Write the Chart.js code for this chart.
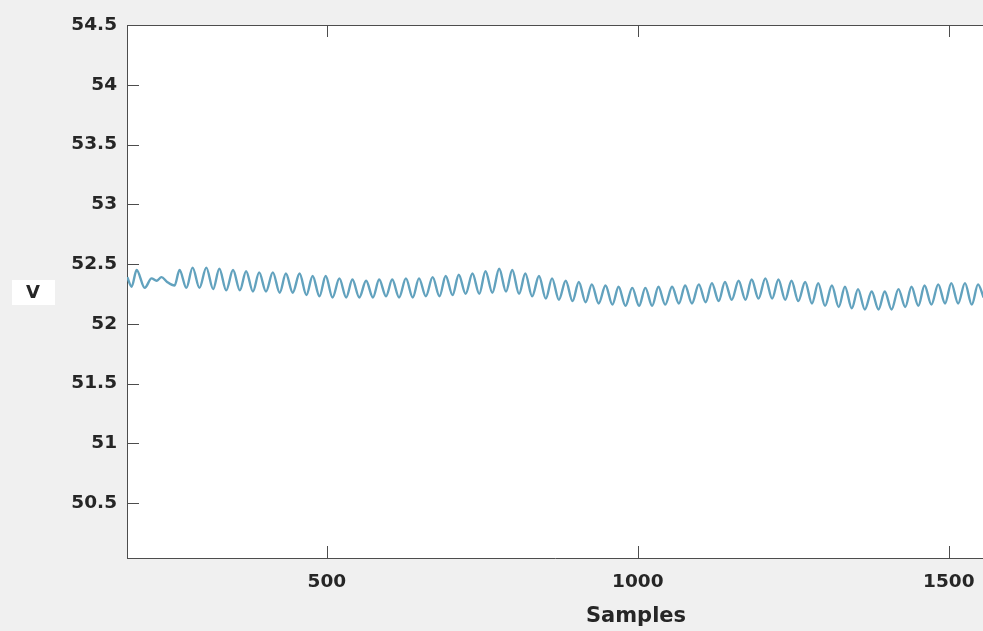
<!DOCTYPE html>
<html>
<head>
<meta charset="utf-8">
<script src="https://cdn.jsdelivr.net/npm/chart.js@4.4.1/dist/chart.umd.min.js"></script>
<style>
  html, body { margin: 0; padding: 0; background: #f0f0f0; }
  #wrap { width: 983px; height: 631px; position: relative; }
</style>
</head>
<body>
<div id="wrap"><canvas id="cv"></canvas></div>
<script>
// peaks and troughs (sample index, volts)
const samples = [
  179, 186, 194, 207, 218, 226, 234, 243, 255,
  263, 274, 284, 295, 306, 317, 327, 338, 349, 360, 370, 381, 391, 402,
  413, 424, 434, 445, 456, 467, 477, 488, 498, 509, 520, 531, 541, 552,
  563, 574, 584, 595, 605, 616, 627, 638, 648, 659, 670, 681, 691, 702,
  712, 723, 734, 745, 755, 766, 777, 788, 798, 809, 819, 830, 841, 852,
  862, 873, 884, 895, 905, 916, 926, 937, 948, 959, 969, 980, 991, 1002,
  1012, 1023, 1033, 1044, 1055, 1066, 1076, 1087, 1098, 1109, 1119, 1130,
  1140, 1151, 1162, 1173, 1183, 1194, 1205, 1216, 1226, 1237, 1247, 1258,
  1269, 1280, 1290, 1301, 1312, 1323, 1333, 1344, 1354, 1365, 1376, 1387,
  1397, 1408, 1419, 1430, 1440, 1451, 1461, 1472, 1483, 1494, 1504, 1515,
  1526, 1537, 1547, 1556
];
const volts = [
  52.39, 52.31, 52.45, 52.30, 52.38, 52.36, 52.39, 52.35, 52.32,
  52.45, 52.30, 52.47, 52.30, 52.47, 52.29, 52.46, 52.28, 52.45, 52.28, 52.44, 52.27, 52.43, 52.27,
  52.43, 52.26, 52.42, 52.26, 52.42, 52.24, 52.40, 52.23, 52.40, 52.22, 52.38, 52.22, 52.37, 52.22,
  52.36, 52.22, 52.37, 52.23, 52.37, 52.22, 52.38, 52.22, 52.38, 52.23, 52.39, 52.23, 52.40, 52.24,
  52.41, 52.25, 52.42, 52.25, 52.44, 52.26, 52.46, 52.27, 52.45, 52.25, 52.42, 52.23, 52.40, 52.21,
  52.38, 52.20, 52.36, 52.19, 52.35, 52.18, 52.33, 52.17, 52.32, 52.16, 52.31, 52.15, 52.30, 52.15,
  52.30, 52.15, 52.31, 52.16, 52.31, 52.17, 52.32, 52.17, 52.33, 52.18, 52.34, 52.19,
  52.35, 52.20, 52.36, 52.20, 52.37, 52.21, 52.38, 52.21, 52.37, 52.20, 52.36, 52.19,
  52.35, 52.17, 52.34, 52.15, 52.32, 52.14, 52.31, 52.13, 52.29, 52.12, 52.27, 52.12,
  52.27, 52.12, 52.29, 52.14, 52.31, 52.15, 52.32, 52.16, 52.33, 52.17, 52.34, 52.17,
  52.34, 52.16, 52.33, 52.22
];
const xTicks = [500, 1000, 1500];
const yTicks = [50.5, 51, 51.5, 52, 52.5, 53, 53.5, 54, 54.5];
const xTitle = "Samples";
const yTitle = "V";

const axis_col = "#4d4d4d";
const text_col = "#262626";
const tick_len = 12;
const font_fam = "'DejaVu Sans', Arial, sans-serif";

// white plot area + top border + inward ticks + axis titles
const matlabBox = {
  id: "matlabBox",
  beforeDraw(chart) {
    const { ctx, chartArea: a } = chart;
    ctx.save();
    ctx.fillStyle = "#ffffff";
    ctx.fillRect(a.left, a.top, chart.width - a.left, a.bottom - a.top);
    ctx.restore();
  },
  afterDraw(chart) {
    const { ctx, chartArea: a, scales } = chart;
    ctx.save();
    ctx.strokeStyle = axis_col;
    ctx.lineWidth = 1;
    ctx.beginPath();
    ctx.moveTo(a.left, a.top + 0.5);
    ctx.lineTo(chart.width, a.top + 0.5);
    for (let v of xTicks) {
      const px = Math.round(scales.x.getPixelForValue(v)) + 0.5;
      ctx.moveTo(px, a.bottom);
      ctx.lineTo(px, a.bottom - tick_len);
      ctx.moveTo(px, a.top);
      ctx.lineTo(px, a.top + tick_len);
    }
    for (let v of yTicks) {
      const py = Math.round(scales.y.getPixelForValue(v)) + 0.5;
      ctx.moveTo(a.left, py);
      ctx.lineTo(a.left + tick_len, py);
    }
    ctx.stroke();

    ctx.fillStyle = text_col;
    ctx.font = "bold 21px " + font_fam;
    ctx.textAlign = "center";
    ctx.textBaseline = "middle";
    ctx.fillText(xTitle, 636, 617);

    ctx.fillStyle = "#ffffff";
    ctx.fillRect(12, 280, 43, 25);
    ctx.fillStyle = text_col;
    ctx.font = "bold 18px " + font_fam;
    ctx.fillText(yTitle, 33, 293);
    ctx.restore();
  }
};

new Chart(document.getElementById("cv"), {
  type: "line",
  data: {
    datasets: [{
      data: samples.map((s, i) => ({ x: s, y: volts[i] })),
      borderColor: "rgb(98, 162, 190)",
      borderWidth: 2.4,
      pointRadius: 0,
      cubicInterpolationMode: "monotone",
      fill: false
    }]
  },
  options: {
    responsive: true,
    maintainAspectRatio: false,
    animation: false,
    layout: { padding: { top: 25, right: 0, left: 0, bottom: 0 } },
    plugins: { legend: { display: false }, tooltip: { enabled: false } },
    scales: {
      x: {
        type: "linear",
        min: 178.5,
        max: 1555,
        afterBuildTicks: (sc) => { sc.ticks = xTicks.map(v => ({ value: v })); },
        afterFit: (sc) => { sc.height = 73; sc.paddingRight = 0; sc.paddingLeft = 0; },
        grid: { display: false, drawTicks: false },
        border: { display: true, color: axis_col, width: 1 },
        ticks: {
          color: text_col,
          padding: 13,
          maxRotation: 0,
          font: { family: font_fam, size: 18.5, weight: "bold" },
          callback: (v) => String(v)
        }
      },
      y: {
        type: "linear",
        min: 50.04,
        max: 54.5,
        afterBuildTicks: (sc) => { sc.ticks = yTicks.map(v => ({ value: v })); },
        afterFit: (sc) => { sc.width = 127; sc.paddingTop = 0; sc.paddingBottom = 0; },
        grid: { display: false, drawTicks: false },
        border: { display: true, color: axis_col, width: 1 },
        ticks: {
          color: text_col,
          padding: 10,
          font: { family: font_fam, size: 18.5, weight: "bold" },
          callback: (v) => String(v)
        }
      }
    }
  },
  plugins: [matlabBox]
});
</script>
</body>
</html>
